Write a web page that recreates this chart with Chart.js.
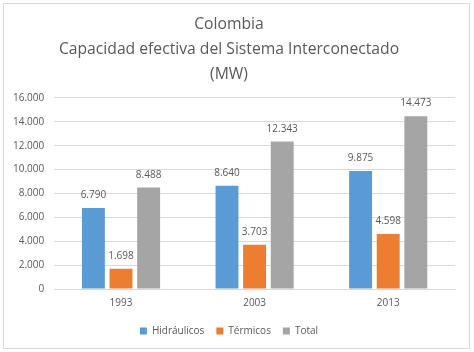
<!DOCTYPE html>
<html>
<head>
<meta charset="utf-8">
<script src="https://cdn.jsdelivr.net/npm/chart.js@4"></script>
<style>
  html, body { margin: 0; padding: 0; background: #fff; }
  #wrap { position: relative; width: 474px; height: 352px; }
</style>
</head>
<body>
<div id="wrap"><canvas id="capacidad-chart" width="474" height="352"></canvas></div>
<script>
// datos
const years = ['1993', '2003', '2013'];
const hidraulicos = [6790, 8640, 9875];
const termicos = [1698, 3703, 4598];
const total = [8488, 12343, 14473];
const yTicks = [0, 2000, 4000, 6000, 8000, 10000, 12000, 14000, 16000];

const textColor = '#595959';
const fontName = '"Open Sans", "Liberation Sans", sans-serif';

function fmt(v) {
    return v.toLocaleString('de-DE');
}

// marco gris alrededor del grafico
const borderPlugin = {
    id: 'marco',
    beforeDraw(chart) {
        const ctx = chart.ctx;
        ctx.save();
        ctx.fillStyle = '#fff';
        ctx.fillRect(0, 0, chart.width, chart.height);
        ctx.strokeStyle = '#d9d9d9';
        ctx.lineWidth = 1;
        ctx.strokeRect(3.5, 3.5, 466, 345);
        ctx.restore();
    }
};

// etiquetas de valor encima de las barras
const valueLabels = {
    id: 'valores',
    afterDatasetsDraw(chart) {
        const ctx = chart.ctx;
        ctx.save();
        ctx.font = '10px ' + fontName;
        ctx.fillStyle = textColor;
        ctx.textAlign = 'center';
        ctx.textBaseline = 'alphabetic';
        chart.data.datasets.forEach((ds, i) => {
            chart.getDatasetMeta(i).data.forEach((bar, j) => {
                ctx.fillText(fmt(ds.data[j]), bar.x, bar.y - 10);
            });
        });
        ctx.restore();
    }
};

const ctx = document.getElementById('capacidad-chart');
new Chart(ctx, {
    type: 'bar',
    plugins: [borderPlugin, valueLabels],
    data: {
        labels: years,
        datasets: [
            { label: 'Hidráulicos', data: hidraulicos, backgroundColor: '#5B9BD5' },
            { label: 'Térmicos', data: termicos, backgroundColor: '#ED7D31' },
            { label: 'Total', data: total, backgroundColor: '#A5A5A5' }
        ]
    },
    options: {
        responsive: false,
        animation: false,
        layout: { padding: { left: 3, right: 19, top: 8, bottom: 6 } },
        datasets: {
            bar: { categoryPercentage: 0.62, barPercentage: 0.83 }
        },
        scales: {
            x: {
                grid: { display: false },
                border: { color: '#d9d9d9' },
                ticks: { color: textColor, font: { family: fontName, size: 10 }, padding: 0 },
                afterFit(scale) {
                    scale.height += 5;
                }
            },
            y: {
                min: 0,
                max: 16000,
                afterBuildTicks(scale) {
                    scale.ticks = yTicks.map(v => ({ value: v }));
                },
                grid: { color: '#d9d9d9', drawTicks: false },
                border: { display: false },
                ticks: {
                    color: textColor,
                    font: { family: fontName, size: 10 },
                    padding: 10,
                    callback: v => fmt(v)
                }
            }
        },
        plugins: {
            title: {
                display: true,
                text: ['Colombia', 'Capacidad efectiva del Sistema Interconectado', '(MW)'],
                color: textColor,
                font: { family: fontName, size: 15.7, weight: 'normal', lineHeight: 1.59 },
                padding: { top: 4, bottom: 11 }
            },
            legend: {
                position: 'bottom',
                labels: {
                    color: textColor,
                    font: { family: fontName, size: 10 },
                    boxWidth: 7,
                    boxHeight: 7,
                    padding: 12
                }
            },
            tooltip: { enabled: false }
        }
    }
});
</script>
</body>
</html>
